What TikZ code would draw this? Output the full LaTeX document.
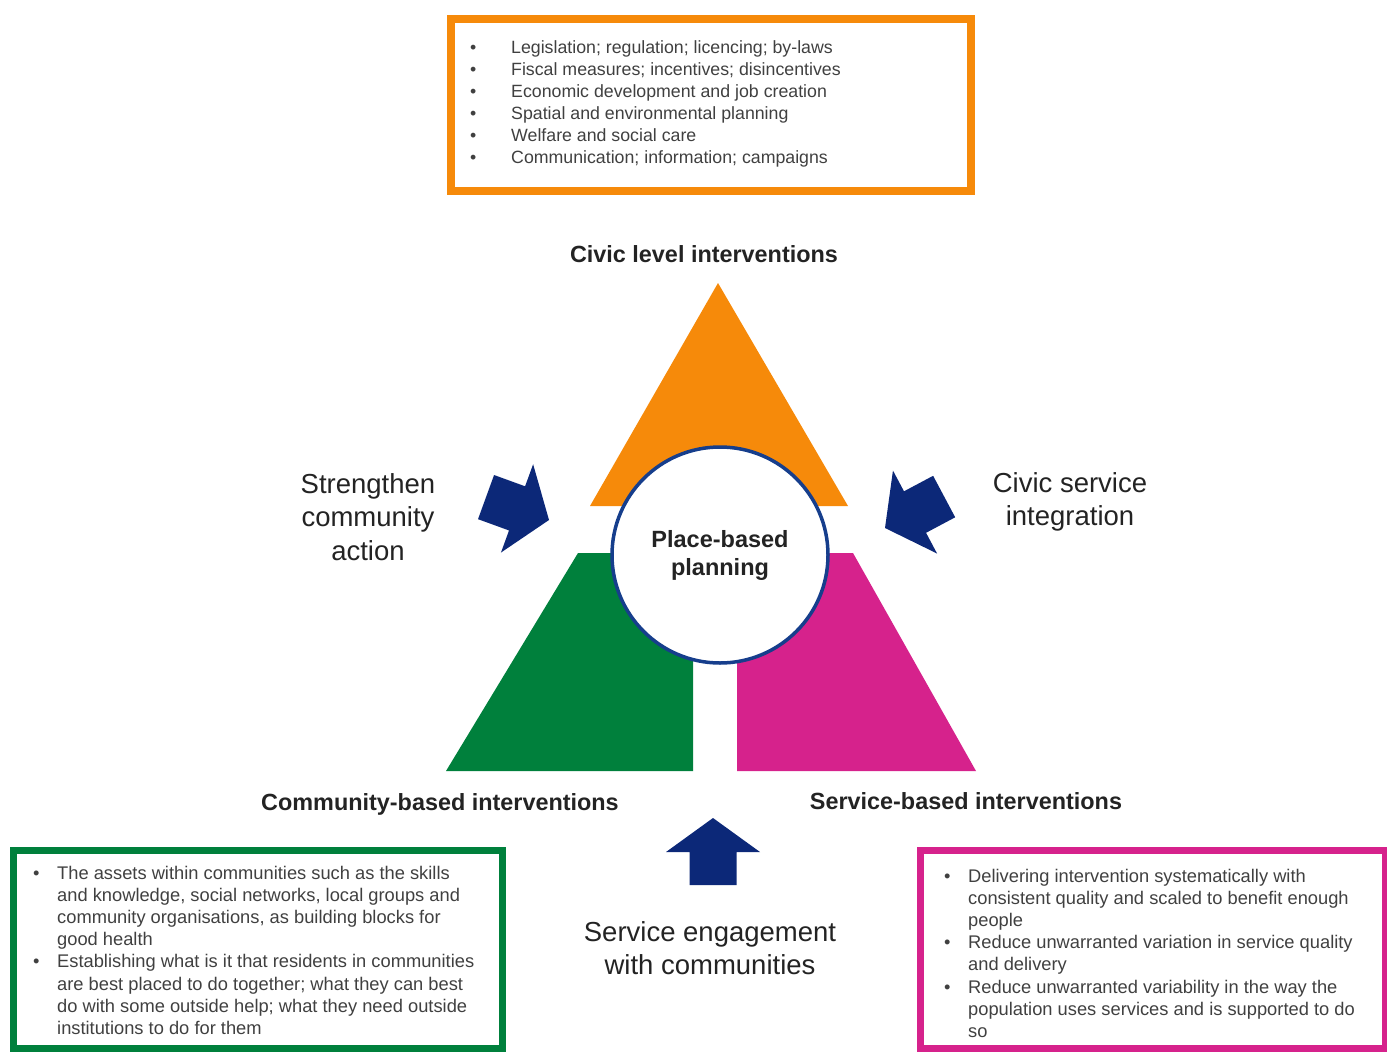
\documentclass[tikz,border=0pt]{standalone}
\usepackage{fontspec}
\setmainfont{Liberation Sans}
\usetikzlibrary{positioning}
\definecolor{civicorange}{RGB}{246,138,10}
\definecolor{commgreen}{RGB}{0,128,60}
\definecolor{servmagenta}{RGB}{214,34,140}
\definecolor{arrowblue}{RGB}{12,40,120}
\definecolor{ringblue}{RGB}{22,62,140}
\definecolor{labelgray}{RGB}{35,35,35}
\definecolor{listgray}{RGB}{64,64,64}

% block arrow, tip at #1, pointing at angle #2
\newcommand{\bigarrow}[2]{%
  \fill[arrowblue,shift={#1},rotate=#2] (0,0)--(-34,-47)--(-34,-23.5)--(-67,-23.5)--(-67,23.5)--(-34,23.5)--(-34,47)--cycle;}

\begin{document}
\begin{tikzpicture}[x=1pt,y=-1pt,
  labeltext/.style={text=labelgray,font=\fontsize{27.5}{33.5}\selectfont,align=center,inner sep=0},
  headtext/.style={text=labelgray,font=\bfseries\fontsize{23.4}{28}\selectfont,inner sep=0,anchor=base},
  listtext/.style={text=listgray,inner sep=0,anchor=base west},
  framebox/.style={line width=7pt}]
  \useasboundingbox (0,0) rectangle (1387,1053);

  % pyramid
  \fill[civicorange] (718,283)--(848,506)--(590,506)--cycle;
  \fill[commgreen] (578,553)--(693,553)--(693,771)--(446,771)--cycle;
  \fill[servmagenta] (737,553)--(853,553)--(976,771)--(737,771)--cycle;
  \node[circle,draw=ringblue,line width=3.5pt,fill=white,minimum size=216pt,inner sep=0,
        align=center,text=labelgray,font=\bfseries\fontsize{23.5}{28}\selectfont] (hub) at (720,555) {Place-based\\planning};

  \node[headtext] (civiclabel) at (704,262) {Civic level interventions};
  \node[headtext] (commlabel) at (440,810) {Community-based interventions};
  \node[headtext] (servlabel) at (966,809) {Service-based interventions};

  % arrows and their texts
  \bigarrow{(549,520)}{-20}
  \bigarrow{(885,528)}{208}
  \bigarrow{(713,818)}{90}
  \node[labeltext] (strengthen) at (368,517) {Strengthen\\community\\action};
  \node[labeltext] (integration) at (1070,502) {Civic service\\integration};
  \node[labeltext] (engagement) at (710,948) {Service engagement\\with communities};

  % boxes
  \draw[civicorange,line width=8pt] (451,19) rectangle (971,191);
  \draw[commgreen,framebox] (13.5,850.5) rectangle (502.5,1048.5);
  \draw[servmagenta,framebox] (920.5,850.5) rectangle (1385,1048.5);

  \node[listtext,font=\fontsize{17.75}{22}\selectfont] (civiclist) at (470,53.5) {%
    \begin{tabular}[t]{@{}p{41pt}@{}l@{}}
      \textbullet & Legislation; regulation; licencing; by-laws\\
      \textbullet & Fiscal measures; incentives; disincentives\\
      \textbullet & Economic development and job creation\\
      \textbullet & Spatial and environmental planning\\
      \textbullet & Welfare and social care\\
      \textbullet & Communication; information; campaigns
    \end{tabular}};
  \node[listtext,font=\fontsize{18.3}{22.2}\selectfont] (commlist) at (33,879) {%
    \begin{tabular}[t]{@{}p{24pt}@{}l@{}}
      \textbullet & The assets within communities such as the skills\\
      & and knowledge, social networks, local groups and\\
      & community organisations, as building blocks for\\
      & good health\\
      \textbullet & Establishing what is it that residents in communities\\
      & are best placed to do together; what they can best\\
      & do with some outside help; what they need outside\\
      & institutions to do for them
    \end{tabular}};
  \node[listtext,font=\fontsize{18.3}{22.2}\selectfont] (servlist) at (944,882) {%
    \begin{tabular}[t]{@{}p{24pt}@{}l@{}}
      \textbullet & Delivering intervention systematically with\\
      & consistent quality and scaled to benefit enough\\
      & people\\
      \textbullet & Reduce unwarranted variation in service quality\\
      & and delivery\\
      \textbullet & Reduce unwarranted variability in the way the\\
      & population uses services and is supported to do\\
      & so
    \end{tabular}};
\end{tikzpicture}
\end{document}
